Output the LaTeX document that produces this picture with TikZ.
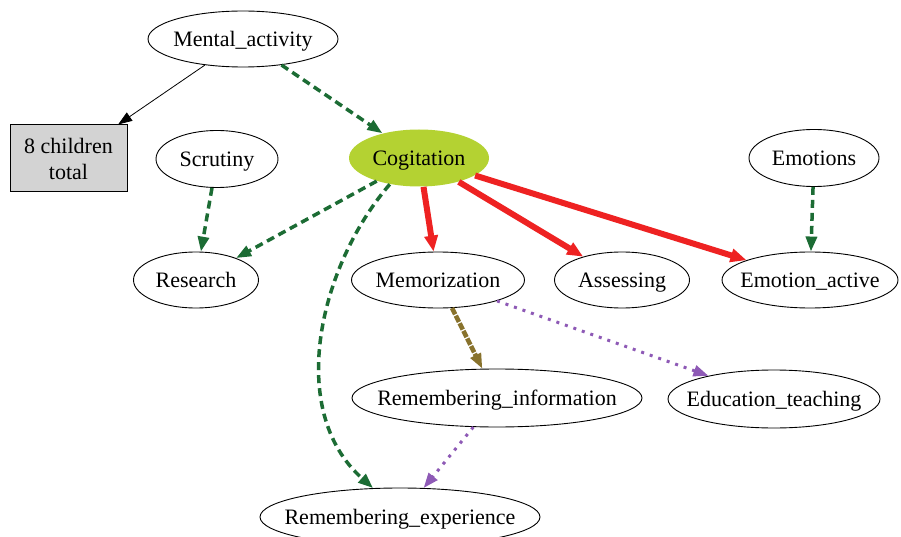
\documentclass[tikz,border=0pt]{standalone}
\usepackage{fontspec}
\setmainfont{Liberation Serif}
\usetikzlibrary{shapes.geometric,arrows.meta}
\definecolor{gvgreen}{RGB}{28,108,52}
\definecolor{gvred}{RGB}{238,34,34}
\definecolor{gvolive}{RGB}{136,114,44}
\definecolor{gvpurple}{RGB}{142,90,182}
\definecolor{cogfill}{RGB}{180,210,50}
\definecolor{boxgray}{RGB}{211,211,211}
\newcommand{\zwtext}[1]{\raisebox{-7.5pt}[0pt][0pt]{\makebox[0pt]{#1}}}
\tikzset{
  gvnode/.style={ellipse, draw=black, line width=0.9pt, inner sep=0pt,
    font=\fontsize{22}{26}\selectfont},
  gvbox/.style={rectangle, draw=black, line width=1pt, fill=boxgray, inner sep=0pt,
    align=center, font=\fontsize{22}{26}\selectfont},
  tipA/.style={-{Triangle[length=15pt,width=11pt]}},
  blackedge/.style={-{Triangle[length=14pt,width=10pt]}, line width=0.8pt, draw=black},
  greenedge/.style={tipA, draw=gvgreen, line width=3.5pt, dash pattern=on 8pt off 5pt},
  rededge/.style={-{Triangle[length=16pt,width=13pt]}, draw=gvred, line width=6pt},
  oliveedge/.style={tipA, draw=gvolive, line width=4.5pt, dash pattern=on 7pt off 1.5pt},
  purpleedge/.style={tipA, draw=gvpurple, line width=3pt, dash pattern=on 3pt off 6pt},
}
\begin{document}
\begin{tikzpicture}[x=1pt,y=-1pt]
\useasboundingbox (0,0) rectangle (901,537);
\clip (0,0) rectangle (901,537);
\fill[white] (0,0) rectangle (901,537);

\node[gvnode, minimum width=190pt, minimum height=56pt] (ma) at (243,39) {\zwtext{Mental\_activity}};
\node[gvbox, minimum width=117pt, minimum height=67pt] (box) at (68.5,158.5) {8 children\\total};
\node[gvnode, minimum width=122pt, minimum height=57pt] (scr) at (217,159) {\zwtext{Scrutiny}};
\node[gvnode, draw=none, fill=cogfill, minimum width=140pt, minimum height=57pt] (cog) at (419,158) {\zwtext{Cogitation}};
\node[gvnode, minimum width=130pt, minimum height=57pt] (emo) at (814,158) {\zwtext{Emotions}};
\node[gvnode, minimum width=125pt, minimum height=56pt] (res) at (196,280) {\zwtext{Research}};
\node[gvnode, minimum width=173pt, minimum height=56pt] (mem) at (438,280) {\zwtext{Memorization}};
\node[gvnode, minimum width=135pt, minimum height=56pt] (ass) at (622,280) {\zwtext{Assessing}};
\node[gvnode, minimum width=176pt, minimum height=56pt] (ema) at (810,280) {\zwtext{Emotion\_active}};
\node[gvnode, minimum width=290pt, minimum height=58pt] (ri) at (497,398) {\zwtext{Remembering\_information}};
\node[gvnode, minimum width=212pt, minimum height=58pt] (edu) at (774,399) {\zwtext{Education\_teaching}};
\node[gvnode, minimum width=280pt, minimum height=58pt] (rex) at (400,517) {\zwtext{Remembering\_experience}};

\draw[blackedge] (ma) -- (box);
\draw[greenedge] (ma) -- (cog);
\draw[greenedge] (scr) -- (res);
\draw[greenedge] (cog) -- (res);
\draw[greenedge] (cog.222) .. controls (320,265) and (285,410) .. (rex.133);
\draw[rededge] (cog) -- (mem);
\draw[rededge] (cog) -- (ass);
\draw[rededge] (cog) -- (ema);
\draw[greenedge] (emo) -- (ema);
\draw[oliveedge] (mem) -- (ri);
\draw[purpleedge] (mem) -- (edu);
\draw[purpleedge] (ri) -- (rex);
\end{tikzpicture}
\end{document}
